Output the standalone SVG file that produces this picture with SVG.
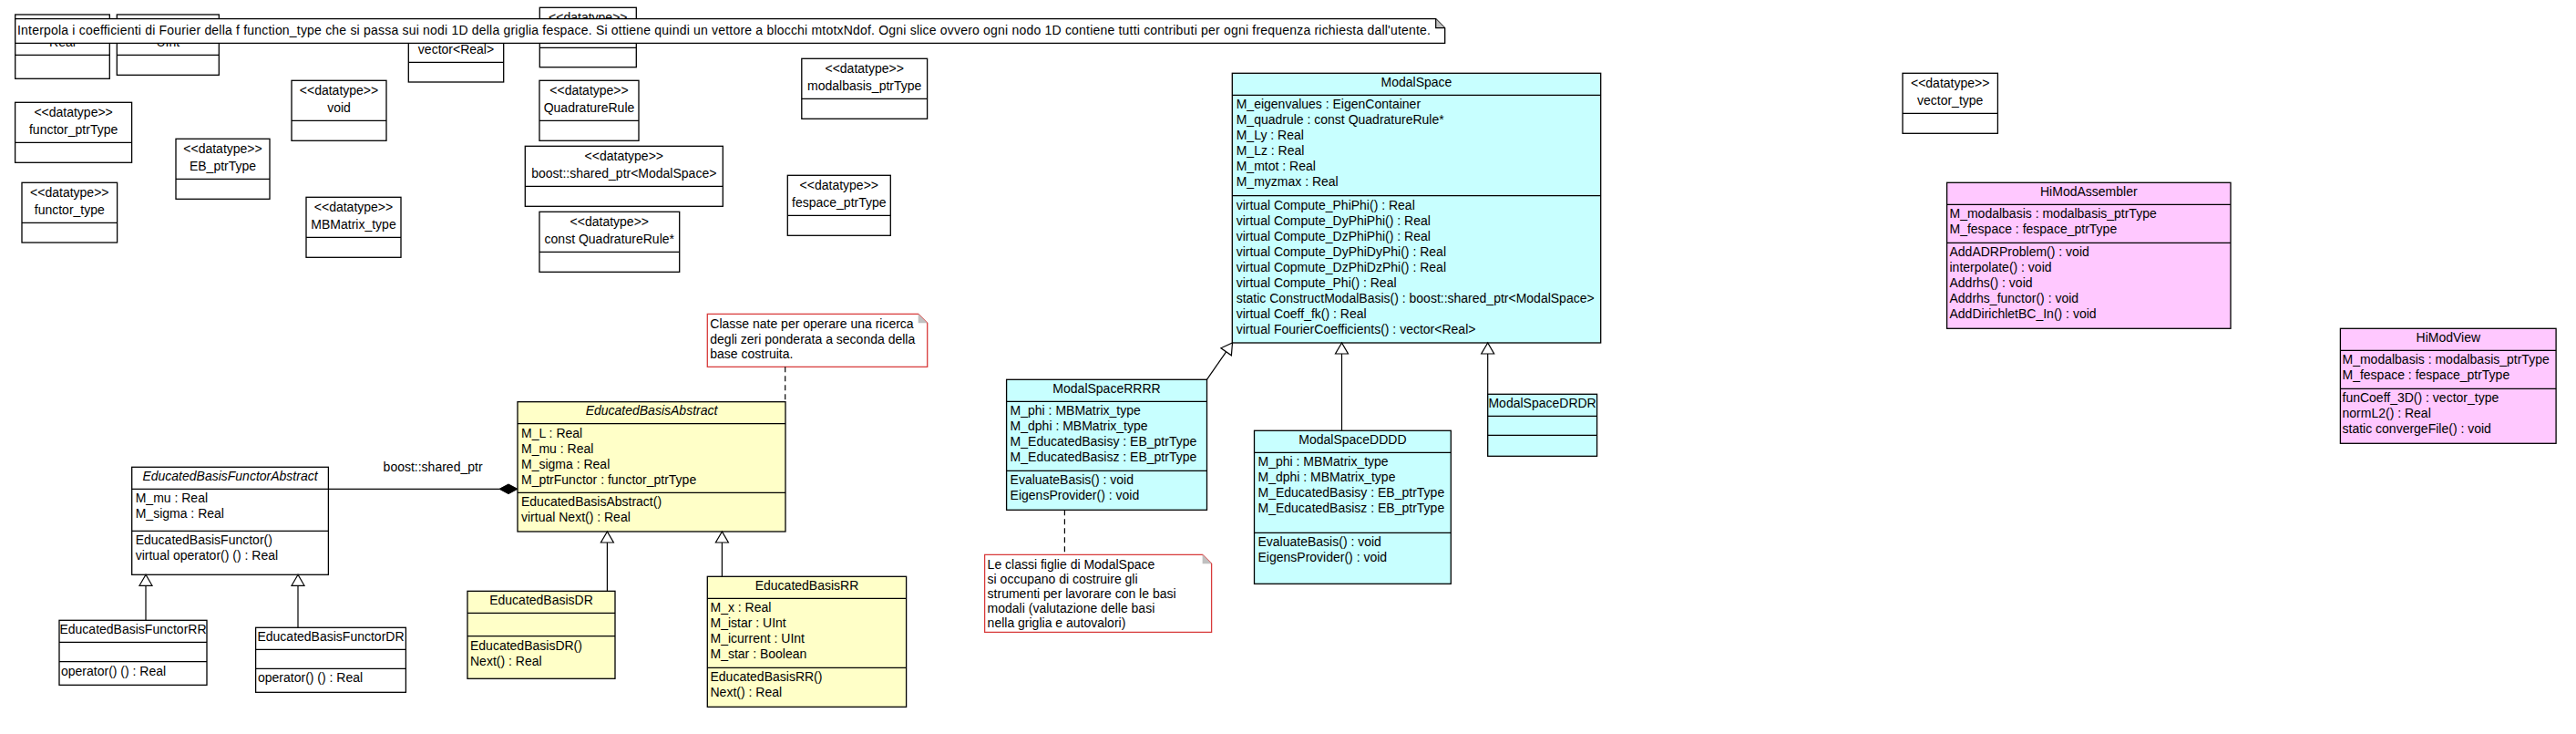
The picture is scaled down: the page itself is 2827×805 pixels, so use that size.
<svg xmlns="http://www.w3.org/2000/svg" width="2827" height="805" viewBox="0 0 2827 805">
<style>
text{font-family:"Liberation Sans",Arial,sans-serif;font-size:14px;fill:#000}
.c{text-anchor:middle}
.i{font-style:italic}
.box{stroke:#000;stroke-width:1.3}
.w{fill:#fff}
.cy{fill:#c8ffff}
.ye{fill:#ffffc8}
.pk{fill:#ffc8ff}
.div{stroke:#000;stroke-width:1.3}
.note{fill:#fff;stroke:#000;stroke-width:1.3}
.rnote{fill:#fff;stroke:#d83a3a;stroke-width:1.3}
.fold{fill:#c0c0c0;stroke:none}
.ln{stroke:#000;stroke-width:1.2;fill:none}
.dash{stroke:#000;stroke-width:1.2;fill:none;stroke-dasharray:6,4}
.tri{fill:#fff;stroke:#000;stroke-width:1.2}
</style>

<!-- datatypes -->
<g id="dt-real"><rect class="box w" x="16.7" y="16" width="103.6" height="70.3"/><line class="div" x1="16.7" y1="60.3" x2="120.3" y2="60.3"/><text class="c" x="68.5" y="50.5">Real</text></g>
<g id="dt-uint"><rect class="box w" x="128.3" y="16" width="112" height="66.3"/><line class="div" x1="128.3" y1="60.3" x2="240.3" y2="60.3"/><text class="c" x="184.3" y="50.5">UInt</text></g>
<g id="dt-vectorreal"><rect class="box w" x="448.3" y="24" width="104.4" height="66"/><line class="div" x1="448.3" y1="68.3" x2="552.7" y2="68.3"/><text class="c" x="500.5" y="59.3">vector&lt;Real&gt;</text></g>
<g id="dt-hidden"><rect class="box w" x="592.3" y="8.3" width="106" height="65.4"/><line class="div" x1="592.3" y1="52.3" x2="698.3" y2="52.3"/><text class="c" x="645.3" y="24.3">&lt;&lt;datatype&gt;&gt;</text></g>
<g id="dt-void"><rect class="box w" x="320" y="88.3" width="104" height="66"/><line class="div" x1="320" y1="132.3" x2="424" y2="132.3"/><text class="c" x="372" y="104.3">&lt;&lt;datatype&gt;&gt;</text><text class="c" x="372" y="122.8">void</text></g>
<g id="dt-functorptr"><rect class="box w" x="16.6" y="112.3" width="128" height="66"/><line class="div" x1="16.6" y1="156.3" x2="144.6" y2="156.3"/><text class="c" x="80.6" y="128.3">&lt;&lt;datatype&gt;&gt;</text><text class="c" x="80.6" y="146.8">functor_ptrType</text></g>
<g id="dt-ebptr"><rect class="box w" x="193" y="152.3" width="103" height="66"/><line class="div" x1="193" y1="196.3" x2="296" y2="196.3"/><text class="c" x="244.5" y="168.3">&lt;&lt;datatype&gt;&gt;</text><text class="c" x="244.5" y="186.8">EB_ptrType</text></g>
<g id="dt-functortype"><rect class="box w" x="24" y="200.3" width="104.6" height="65.7"/><line class="div" x1="24" y1="244.3" x2="128.6" y2="244.3"/><text class="c" x="76.3" y="216.3">&lt;&lt;datatype&gt;&gt;</text><text class="c" x="76.3" y="234.8">functor_type</text></g>
<g id="dt-mbmatrix"><rect class="box w" x="336" y="216.3" width="104" height="66"/><line class="div" x1="336" y1="260.3" x2="440" y2="260.3"/><text class="c" x="388" y="232.3">&lt;&lt;datatype&gt;&gt;</text><text class="c" x="388" y="250.8">MBMatrix_type</text></g>
<g id="dt-quadrule"><rect class="box w" x="592" y="88.3" width="109" height="66"/><line class="div" x1="592" y1="132.3" x2="701" y2="132.3"/><text class="c" x="646.5" y="104.3">&lt;&lt;datatype&gt;&gt;</text><text class="c" x="646.5" y="122.8">QuadratureRule</text></g>
<g id="dt-sharedptr"><rect class="box w" x="576.3" y="160.3" width="217" height="66"/><line class="div" x1="576.3" y1="204.3" x2="793.3" y2="204.3"/><text class="c" x="684.8" y="176.3">&lt;&lt;datatype&gt;&gt;</text><text class="c" x="684.8" y="194.8">boost::shared_ptr&lt;ModalSpace&gt;</text></g>
<g id="dt-constquad"><rect class="box w" x="592" y="232.3" width="153.7" height="66"/><line class="div" x1="592" y1="276.3" x2="745.7" y2="276.3"/><text class="c" x="668.8" y="248.3">&lt;&lt;datatype&gt;&gt;</text><text class="c" x="668.8" y="266.8">const QuadratureRule*</text></g>
<g id="dt-modalbasisptr"><rect class="box w" x="879.8" y="64.3" width="137.8" height="66"/><line class="div" x1="879.8" y1="108.3" x2="1017.6" y2="108.3"/><text class="c" x="948.7" y="80.3">&lt;&lt;datatype&gt;&gt;</text><text class="c" x="948.7" y="98.8">modalbasis_ptrType</text></g>
<g id="dt-fespaceptr"><rect class="box w" x="864.3" y="192.3" width="113" height="66"/><line class="div" x1="864.3" y1="236.3" x2="977.3" y2="236.3"/><text class="c" x="920.8" y="208.3">&lt;&lt;datatype&gt;&gt;</text><text class="c" x="920.8" y="226.8">fespace_ptrType</text></g>
<g id="dt-vectortype"><rect class="box w" x="2088" y="80.3" width="104.4" height="66"/><line class="div" x1="2088" y1="124.3" x2="2192.4" y2="124.3"/><text class="c" x="2140.2" y="96.3">&lt;&lt;datatype&gt;&gt;</text><text class="c" x="2140.2" y="114.8">vector_type</text></g>

<!-- top note -->
<g id="note-top">
<path class="note" d="M16.7 20.7 H1575.7 L1585.7 30.7 V47.3 H16.7 Z"/>
<path class="fold" d="M1575.7 20.7 V30.7 H1585.7 Z"/>
<path class="ln" d="M1575.7 20.7 V30.7 H1585.7"/>
<text x="19" y="37.5" textLength="1551" lengthAdjust="spacing">Interpola i coefficienti di Fourier della f function_type che si passa sui nodi 1D della griglia fespace. Si ottiene quindi un vettore a blocchi mtotxNdof. Ogni slice ovvero ogni nodo 1D contiene tutti contributi per ogni frequenza richiesta dall'utente.</text>
</g>

<!-- ModalSpace -->
<g id="ModalSpace">
<rect class="box cy" x="1352.3" y="80.3" width="404.4" height="295.7"/>
<line class="div" x1="1352.3" y1="104.3" x2="1756.7" y2="104.3"/>
<line class="div" x1="1352.3" y1="214.7" x2="1756.7" y2="214.7"/>
<text class="c" x="1554.5" y="94.7">ModalSpace</text>
<text x="1356.7" y="119">M_eigenvalues : EigenContainer</text>
<text x="1356.7" y="136">M_quadrule : const QuadratureRule*</text>
<text x="1356.7" y="153">M_Ly : Real</text>
<text x="1356.7" y="170">M_Lz : Real</text>
<text x="1356.7" y="187">M_mtot : Real</text>
<text x="1356.7" y="204">M_myzmax : Real</text>
<text x="1356.7" y="229.5">virtual Compute_PhiPhi() : Real</text>
<text x="1356.7" y="246.5">virtual Compute_DyPhiPhi() : Real</text>
<text x="1356.7" y="263.5">virtual Compute_DzPhiPhi() : Real</text>
<text x="1356.7" y="280.5">virtual Compute_DyPhiDyPhi() : Real</text>
<text x="1356.7" y="297.5">virtual Copmute_DzPhiDzPhi() : Real</text>
<text x="1356.7" y="314.5">virtual Compute_Phi() : Real</text>
<text x="1356.7" y="331.5">static ConstructModalBasis() : boost::shared_ptr&lt;ModalSpace&gt;</text>
<text x="1356.7" y="348.5">virtual Coeff_fk() : Real</text>
<text x="1356.7" y="365.5">virtual FourierCoefficients() : vector&lt;Real&gt;</text>
</g>

<g id="ModalSpaceRRRR">
<rect class="box cy" x="1104.6" y="416.3" width="219.9" height="143"/>
<line class="div" x1="1104.6" y1="440.3" x2="1324.5" y2="440.3"/>
<line class="div" x1="1104.6" y1="516.3" x2="1324.5" y2="516.3"/>
<text class="c" x="1214.5" y="430.7">ModalSpaceRRRR</text>
<text x="1108.6" y="455.3">M_phi : MBMatrix_type</text>
<text x="1108.6" y="472.3">M_dphi : MBMatrix_type</text>
<text x="1108.6" y="489.3">M_EducatedBasisy : EB_ptrType</text>
<text x="1108.6" y="506.3">M_EducatedBasisz : EB_ptrType</text>
<text x="1108.6" y="531.3">EvaluateBasis() : void</text>
<text x="1108.6" y="548.3">EigensProvider() : void</text>
</g>

<g id="ModalSpaceDDDD">
<rect class="box cy" x="1376.5" y="472.3" width="215.8" height="168"/>
<line class="div" x1="1376.5" y1="496.3" x2="1592.3" y2="496.3"/>
<line class="div" x1="1376.5" y1="584.3" x2="1592.3" y2="584.3"/>
<text class="c" x="1484.4" y="486.7">ModalSpaceDDDD</text>
<text x="1380.5" y="511.3">M_phi : MBMatrix_type</text>
<text x="1380.5" y="528.3">M_dphi : MBMatrix_type</text>
<text x="1380.5" y="545.3">M_EducatedBasisy : EB_ptrType</text>
<text x="1380.5" y="562.3">M_EducatedBasisz : EB_ptrType</text>
<text x="1380.5" y="599.3">EvaluateBasis() : void</text>
<text x="1380.5" y="616.3">EigensProvider() : void</text>
</g>

<g id="ModalSpaceDRDR">
<rect class="box cy" x="1632.7" y="432.3" width="119.9" height="68"/>
<line class="div" x1="1632.7" y1="456.3" x2="1752.6" y2="456.3"/>
<line class="div" x1="1632.7" y1="477.3" x2="1752.6" y2="477.3"/>
<text class="c" x="1692.6" y="446.7">ModalSpaceDRDR</text>
</g>

<g id="EducatedBasisAbstract">
<rect class="box ye" x="568" y="440.7" width="294" height="142.3"/>
<line class="div" x1="568" y1="464.7" x2="862" y2="464.7"/>
<line class="div" x1="568" y1="540.3" x2="862" y2="540.3"/>
<text class="c i" x="715" y="455">EducatedBasisAbstract</text>
<text x="572" y="479.7">M_L : Real</text>
<text x="572" y="496.7">M_mu : Real</text>
<text x="572" y="513.7">M_sigma : Real</text>
<text x="572" y="530.7">M_ptrFunctor : functor_ptrType</text>
<text x="572" y="555.3">EducatedBasisAbstract()</text>
<text x="572" y="572.3">virtual Next() : Real</text>
</g>

<g id="EducatedBasisFunctorAbstract">
<rect class="box w" x="144.7" y="512.3" width="215.7" height="118"/>
<line class="div" x1="144.7" y1="536.3" x2="360.4" y2="536.3"/>
<line class="div" x1="144.7" y1="582.3" x2="360.4" y2="582.3"/>
<text class="c i" x="252.5" y="526.7">EducatedBasisFunctorAbstract</text>
<text x="148.7" y="551.3">M_mu : Real</text>
<text x="148.7" y="568.3">M_sigma : Real</text>
<text x="148.7" y="597.3">EducatedBasisFunctor()</text>
<text x="148.7" y="614.3">virtual operator() () : Real</text>
</g>

<g id="EducatedBasisFunctorRR">
<rect class="box w" x="65" y="680.3" width="162" height="71"/>
<line class="div" x1="65" y1="704.3" x2="227" y2="704.3"/>
<line class="div" x1="65" y1="725.7" x2="227" y2="725.7"/>
<text class="c" x="146" y="694.7">EducatedBasisFunctorRR</text>
<text x="67" y="740.7">operator() () : Real</text>
</g>

<g id="EducatedBasisFunctorDR">
<rect class="box w" x="280.6" y="688.3" width="164.8" height="71"/>
<line class="div" x1="280.6" y1="712.3" x2="445.4" y2="712.3"/>
<line class="div" x1="280.6" y1="733.3" x2="445.4" y2="733.3"/>
<text class="c" x="363" y="702.7">EducatedBasisFunctorDR</text>
<text x="283" y="748.3">operator() () : Real</text>
</g>

<g id="EducatedBasisDR">
<rect class="box ye" x="513" y="648.3" width="162" height="96"/>
<line class="div" x1="513" y1="672.3" x2="675" y2="672.3"/>
<line class="div" x1="513" y1="697.7" x2="675" y2="697.7"/>
<text class="c" x="594" y="662.7">EducatedBasisDR</text>
<text x="516" y="712.7">EducatedBasisDR()</text>
<text x="516" y="729.7">Next() : Real</text>
</g>

<g id="EducatedBasisRR">
<rect class="box ye" x="776.3" y="632.3" width="218.3" height="143"/>
<line class="div" x1="776.3" y1="656.3" x2="994.6" y2="656.3"/>
<line class="div" x1="776.3" y1="732.3" x2="994.6" y2="732.3"/>
<text class="c" x="885.5" y="646.7">EducatedBasisRR</text>
<text x="779.5" y="671.3">M_x : Real</text>
<text x="779.5" y="688.3">M_istar : UInt</text>
<text x="779.5" y="705.3">M_icurrent : UInt</text>
<text x="779.5" y="722.3">M_star : Boolean</text>
<text x="779.5" y="747.3">EducatedBasisRR()</text>
<text x="779.5" y="764.3">Next() : Real</text>
</g>

<g id="HiModAssembler">
<rect class="box pk" x="2136.6" y="200.3" width="311.4" height="160"/>
<line class="div" x1="2136.6" y1="224.3" x2="2448" y2="224.3"/>
<line class="div" x1="2136.6" y1="266.3" x2="2448" y2="266.3"/>
<text class="c" x="2292.3" y="214.7">HiModAssembler</text>
<text x="2139.5" y="239.3">M_modalbasis : modalbasis_ptrType</text>
<text x="2139.5" y="256.3">M_fespace : fespace_ptrType</text>
<text x="2139.5" y="281.3">AddADRProblem() : void</text>
<text x="2139.5" y="298.3">interpolate() : void</text>
<text x="2139.5" y="315.3">Addrhs() : void</text>
<text x="2139.5" y="332.3">Addrhs_functor() : void</text>
<text x="2139.5" y="349.3">AddDirichletBC_In() : void</text>
</g>

<g id="HiModView">
<rect class="box pk" x="2568.4" y="360.3" width="236.7" height="126"/>
<line class="div" x1="2568.4" y1="384.3" x2="2805.1" y2="384.3"/>
<line class="div" x1="2568.4" y1="426.3" x2="2805.1" y2="426.3"/>
<text class="c" x="2686.8" y="374.7">HiModView</text>
<text x="2570.5" y="399.3">M_modalbasis : modalbasis_ptrType</text>
<text x="2570.5" y="416.3">M_fespace : fespace_ptrType</text>
<text x="2570.5" y="441.3">funCoeff_3D() : vector_type</text>
<text x="2570.5" y="458.3">normL2() : Real</text>
<text x="2570.5" y="475.3">static convergeFile() : void</text>
</g>

<g id="note-educated">
<path class="rnote" d="M776.3 344.3 H1007.7 L1017.7 354.3 V402.3 H776.3 Z"/>
<path class="fold" d="M1007.7 344.3 V354.3 H1017.7 Z"/>
<text x="779.3" y="360">Classe nate per operare una ricerca</text>
<text x="779.3" y="377">degli zeri ponderata a seconda della</text>
<text x="779.3" y="393.3">base costruita.</text>
</g>

<g id="note-modal">
<path class="rnote" d="M1080.6 608.3 H1319.6 L1329.6 618.3 V693.3 H1080.6 Z"/>
<path class="fold" d="M1319.6 608.3 V618.3 H1329.6 Z"/>
<text x="1083.6" y="624.3">Le classi figlie di ModalSpace</text>
<text x="1083.6" y="640.3">si occupano di costruire gli</text>
<text x="1083.6" y="656.3">strumenti per lavorare con le basi</text>
<text x="1083.6" y="672.3">modali (valutazione delle basi</text>
<text x="1083.6" y="688.3">nella griglia e autovalori)</text>
</g>

<!-- connectors -->
<g id="connectors">
<line class="ln" x1="360.4" y1="536.3" x2="548" y2="536.3"/>
<path d="M548 536.3 L558 531 L568 536.3 L558 541.6 Z" fill="#000" stroke="#000" stroke-width="1"/>
<text x="420.6" y="516.7">boost::shared_ptr</text>

<line class="ln" x1="160" y1="680.3" x2="160" y2="642.3"/>
<path class="tri" d="M160 630.3 L153 642.3 L167 642.3 Z"/>
<line class="ln" x1="327" y1="688.3" x2="327" y2="642.3"/>
<path class="tri" d="M327 630.3 L320 642.3 L334 642.3 Z"/>

<line class="ln" x1="666.4" y1="648.3" x2="666.4" y2="595"/>
<path class="tri" d="M666.4 583 L659.4 595 L673.4 595 Z"/>
<line class="ln" x1="792.4" y1="632.3" x2="792.4" y2="595"/>
<path class="tri" d="M792.4 583 L785.4 595 L799.4 595 Z"/>

<line class="ln" x1="1472.5" y1="472.3" x2="1472.5" y2="388"/>
<path class="tri" d="M1472.5 376 L1465.5 388 L1479.5 388 Z"/>
<line class="ln" x1="1632.7" y1="432.3" x2="1632.7" y2="388"/>
<path class="tri" d="M1632.7 376 L1625.7 388 L1639.7 388 Z"/>

<line class="ln" x1="1324.4" y1="416.3" x2="1345.6" y2="385.9"/>
<path class="tri" d="M1352.5 376 L1351.4 389.8 L1339.9 381.8 Z"/>

<line class="dash" x1="861.7" y1="402.3" x2="861.7" y2="440.7"/>
<line class="dash" x1="1168.4" y1="559.3" x2="1168.4" y2="608.3"/>
</g>
</svg>
